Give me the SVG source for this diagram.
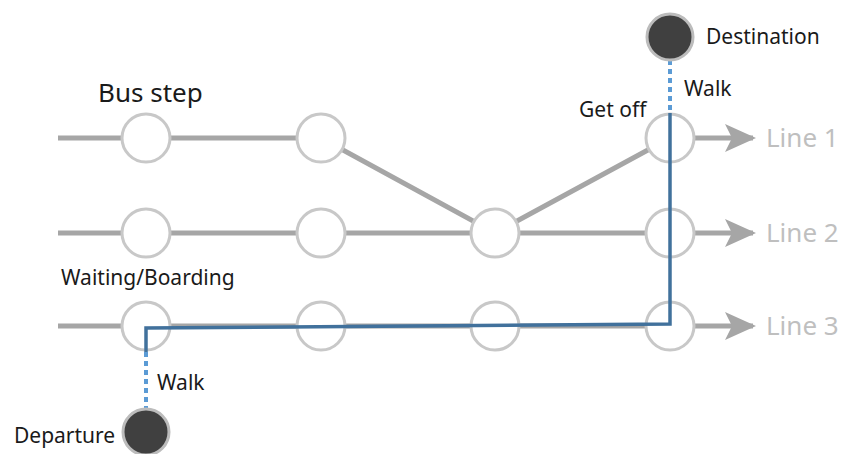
<svg xmlns="http://www.w3.org/2000/svg" width="842" height="454" viewBox="0 0 842 454">
<defs>
<style>
.ln{stroke:#a6a6a6;stroke-width:5;fill:none}
.stop{fill:#fff;stroke:#c8c8c8;stroke-width:3}
.end{fill:#404040;stroke:#bcbcbc;stroke-width:3}
.route{stroke:#41719c;stroke-width:3.5;fill:none}
.walk{stroke:#5b9bd5;stroke-width:4;stroke-dasharray:5 4;fill:none}
.lbl{font-family:"Noto Sans","Liberation Sans",sans-serif;fill:#1a1a1a;font-size:21px}
.line{font-family:"Noto Sans","Liberation Sans",sans-serif;fill:#bfbfbf;font-size:26px}
</style>
<marker id="ar" viewBox="0 0 31 28" refX="28" refY="14" markerWidth="31" markerHeight="28" markerUnits="userSpaceOnUse" orient="auto">
<path d="M0,0 L31,14 L0,28 L7,14 Z" fill="#a6a6a6"/>
</marker>
</defs>
<g id="connectors">
<path class="ln" d="M58,138 H321 L495,233 L670,138"/>
<path class="ln" d="M58,233 H670"/>
<path class="ln" d="M58,326 H670"/>
<path class="ln" d="M694,138 H753" marker-end="url(#ar)"/>
<path class="ln" d="M694,233 H753" marker-end="url(#ar)"/>
<path class="ln" d="M694,326 H753" marker-end="url(#ar)"/>
</g>
<g id="stops">
<circle id="s11" class="stop" cx="146" cy="138" r="24"/>
<circle id="s12" class="stop" cx="321" cy="138" r="24"/>
<circle id="s14" class="stop" cx="670" cy="138" r="24"/>
<circle id="s21" class="stop" cx="146" cy="233" r="24"/>
<circle id="s22" class="stop" cx="321" cy="233" r="24"/>
<circle id="s23" class="stop" cx="495" cy="233" r="24"/>
<circle id="s24" class="stop" cx="670" cy="233" r="24"/>
<circle id="s31" class="stop" cx="146" cy="326" r="24"/>
<circle id="s32" class="stop" cx="321" cy="326" r="24"/>
<circle id="s33" class="stop" cx="495" cy="326" r="24"/>
<circle id="s34" class="stop" cx="670" cy="326" r="24"/>
</g>
<g id="route">
<path class="walk" d="M146,352 V410"/>
<path class="walk" d="M670,60 V113"/>
<path class="route" d="M146,352 V328 L670,324 V113"/>
</g>
<g id="departure">
<circle class="end" cx="146" cy="432" r="23"/>
<text class="lbl" x="14" y="443">Departure</text>
</g>
<g id="destination">
<circle class="end" cx="670" cy="37" r="23"/>
<text class="lbl" x="706" y="44">Destination</text>
</g>
<g id="labels">
<text class="lbl" x="98" y="102" style="font-size:26px">Bus step</text>
<text class="lbl" x="579" y="117">Get off</text>
<text class="lbl" x="684" y="96">Walk</text>
<text class="lbl" x="61" y="285">Waiting/Boarding</text>
<text class="lbl" x="157" y="390">Walk</text>
<text class="line" x="766" y="147">Line 1</text>
<text class="line" x="766" y="242">Line 2</text>
<text class="line" x="766" y="335">Line 3</text>
</g>
</svg>
